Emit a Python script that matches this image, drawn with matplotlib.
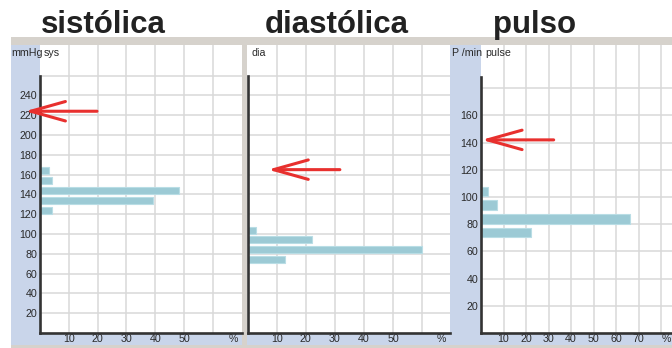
import matplotlib
matplotlib.use('Agg')
import matplotlib.pyplot as plt
from matplotlib.patches import Rectangle

plt.rcParams['font.family'] = ['Liberation Sans', 'DejaVu Sans']

# histogram data (bin start, percent)
sys_bins = [120, 130, 140, 150, 160]
sys_pct = [4.3, 39.2, 48.4, 4.3, 3.2]
dia_bins = [70, 80, 90, 100]
dia_pct = [13.0, 59.8, 22.0, 2.9]
pulse_bins = [70, 80, 90, 100]
pulse_pct = [22.2, 66.2, 7.3, 3.2]

titles = ['sistólica', 'diastólica', 'pulso']
headers = ['sys', 'dia', 'pulse']
units = ['mmHg', None, 'P /min']

# red arrow targets (x in %, y in units)
arrow_tips = [(-5.2, 224), (7.0, 165), (0.3, 142)]

W, H = 672, 348
BAR = '#9ccad5'
BLUE = '#c9d5ea'
GRAY = '#d6d2cc'
GRID = '#d9d9d9'
TXT = '#2a2a2a'
FS = 7.7

fig = plt.figure(figsize=(W / 100, H / 100), dpi=100)
fig.patch.set_facecolor('white')


def rect(x, y, w, h, c):
    fig.add_artist(Rectangle((x / W, 1 - (y + h) / H), w / W, h / H,
                             transform=fig.transFigure, color=c, lw=0, zorder=-5))


def ftext(x, y, s, **kw):
    fig.text(x / W, 1 - y / H, s, **kw)


# frame pieces
rect(11, 37, 661, 8, GRAY)
rect(11, 345, 661, 3, GRAY)
rect(242, 45, 5, 303, GRAY)
rect(11, 45, 29, 300, BLUE)
rect(11, 333, 231, 12, BLUE)
rect(247, 333, 203, 12, BLUE)
rect(450, 45, 31, 300, BLUE)
rect(450, 333, 222, 12, BLUE)

# (left, right, x px per %, y px per unit, top value, xticks max, last labelled x)
panels = [
    (40, 242, 2.88, 0.99, 260, 60, 50),
    (247.5, 450, 2.91, 0.99, 260, 60, 50),
    (481, 672, 2.25, 1.36, 188, 80, 70),
]
data = [(sys_bins, sys_pct), (dia_bins, dia_pct), (pulse_bins, pulse_pct)]
top, bottom = 45, 333

for i, (l, r, sx, sy, ytop, xmax, xlab) in enumerate(panels):
    ax = fig.add_axes([l / W, 1 - bottom / H, (r - l) / W, (bottom - top) / H])
    ax.set_xlim(0, (r - l) / sx)
    ax.set_ylim(0, (bottom - top) / sy)
    bins, pct = data[i]
    ax.barh([b + 0.5 for b in bins], pct, height=7, align='edge',
            color=BAR, edgecolor='#b9dde5', lw=0.8, zorder=2)

    xt = list(range(10, xmax + 1, 10))
    ax.set_xticks(xt)
    ax.set_xticklabels([str(v) if v <= xlab else '' for v in xt])
    yt = list(range(20, int(ytop) // 20 * 20 + 1, 20))
    ax.set_yticks(yt)
    ax.set_yticklabels([str(v) if v < yt[-1] else '' for v in yt])
    if i == 1:
        ax.tick_params(labelleft=False)
    ax.tick_params(length=0, labelsize=FS, colors=TXT, pad=2)
    ax.tick_params(axis='x', pad=1)
    ax.grid(True, color=GRID, lw=1.1)
    ax.set_axisbelow(True)
    for s in ['top', 'right']:
        ax.spines[s].set_visible(False)
    for s in ['left', 'bottom']:
        ax.spines[s].set_color('#333333')
        ax.spines[s].set_linewidth(1.9)
    ax.spines['left'].set_bounds(0, ytop)

    ax.annotate('', xy=arrow_tips[i], xycoords='data',
                xytext=(72, 0), textcoords='offset pixels',
                annotation_clip=False,
                arrowprops=dict(arrowstyle='->,head_length=25,head_width=7',
                                mutation_scale=1, color='#e8302e', lw=2.2,
                                shrinkA=0, shrinkB=0))

    ftext(l + 4, 53, headers[i], fontsize=FS, color=TXT, va='center')

# y units
ftext(11, 53, units[0], fontsize=FS, color=TXT, va='center')
ftext(452, 53, units[2], fontsize=FS, color=TXT, va='center')

# % labels
ftext(233, 339, '%', fontsize=FS, color=TXT, ha='center', va='center')
ftext(441, 339, '%', fontsize=FS, color=TXT, ha='center', va='center')
ftext(671, 339, '%', fontsize=FS, color=TXT, ha='right', va='center')

# titles
for x, t in zip([41, 265, 493], titles):
    ftext(x, 33, t, fontsize=22.5, fontweight='bold', color='#222222',
          va='baseline')

fig.savefig('out.png', dpi=100)
